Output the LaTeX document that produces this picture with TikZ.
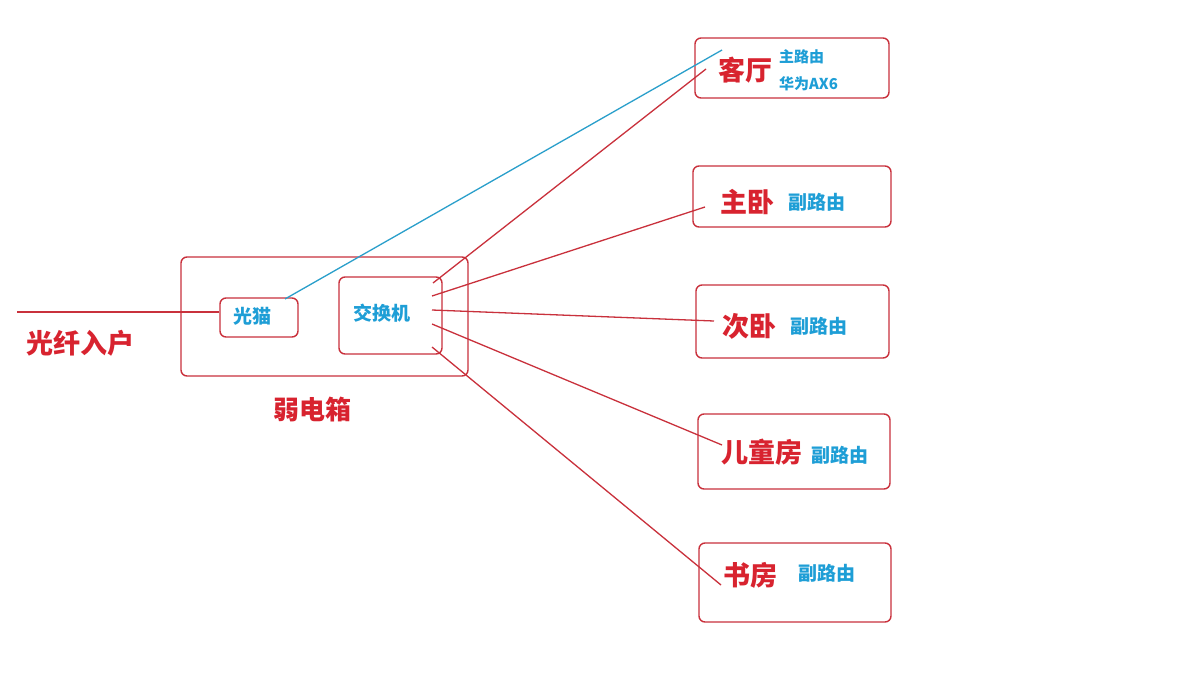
\documentclass[tikz,border=0pt]{standalone}
\usepackage{fontspec}
\setmainfont{Noto Sans CJK SC}
\definecolor{tred}{HTML}{D8232F}
\definecolor{bred}{HTML}{C9313C}
\definecolor{tblue}{HTML}{1E9ED6}
\definecolor{lblue}{HTML}{2A9FCB}
\begin{document}
\begin{tikzpicture}[x=1pt,y=-1pt,
  box/.style={draw=bred,line width=1.4pt,rounded corners=6pt,inner sep=0pt},
  redtxt/.style={text=tred,font=\bfseries\fontsize{27}{30}\selectfont,inner sep=0pt},
  bluetxt/.style={text=tblue,font=\bfseries\fontsize{19}{22}\selectfont,inner sep=0pt},
  smalltxt/.style={text=tblue,font=\bfseries\fontsize{15}{18}\selectfont,inner sep=0pt},
  wire/.style={draw=bred,line width=1.3pt},
  bwire/.style={draw=lblue,line width=1.3pt}]
\useasboundingbox[fill=white] (0,0) rectangle (1200,675);
% cabinet
\node[box,minimum width=287pt,minimum height=119pt] (cab) at (324.5,316.5) {};
\node[box,minimum width=78pt,minimum height=39pt] (modem) at (259,317.5) {};
\node[box,minimum width=103pt,minimum height=77pt] (sw) at (390.5,315.5) {};
\node[bluetxt] (modemt) at (252,316) {光猫};
\node[bluetxt] (swt) at (382,313) {交换机};
\node[redtxt] (fiber) at (81,343) {光纤入户};
\node[redtxt,font=\bfseries\fontsize{26}{29}\selectfont] (cabt) at (312,410) {弱电箱};
% rooms
\node[box,minimum width=194pt,minimum height=60pt] (r1) at (792,68) {};
\node[box,minimum width=198pt,minimum height=61pt] (r2) at (792,196.5) {};
\node[box,minimum width=193pt,minimum height=73pt] (r3) at (792.5,321.5) {};
\node[box,minimum width=192pt,minimum height=75pt] (r4) at (794,451.5) {};
\node[box,minimum width=192pt,minimum height=79pt] (r5) at (795,582.5) {};
\node[redtxt] (r1t) at (745,70) {客厅};
\node[smalltxt,anchor=west] (r1a) at (779,57) {主路由};
\node[smalltxt,anchor=west] (r1b) at (779,84) {华为AX6};
\node[redtxt] (r2t) at (747,202) {主卧};
\node[bluetxt] (r2s) at (817,202) {副路由};
\node[redtxt] (r3t) at (749,326) {次卧};
\node[bluetxt] (r3s) at (819,326) {副路由};
\node[redtxt] (r4t) at (762,452) {儿童房};
\node[bluetxt] (r4s) at (840,455) {副路由};
\node[redtxt] (r5t) at (750,575) {书房};
\node[bluetxt] (r5s) at (827,573) {副路由};
% wire ends
\coordinate (fin) at (17,312);
\coordinate (mo) at (285,299);
\coordinate (s1) at (433,283);
\coordinate (s2) at (432,296);
\coordinate (s3) at (432,310);
\coordinate (s4) at (432,324);
\coordinate (s5) at (432,347);
\coordinate (e0) at (722,50);
\coordinate (e1) at (706,69);
\coordinate (e2) at (705,207);
\coordinate (e3) at (714,321);
\coordinate (e4) at (722,445);
\coordinate (e5) at (721,585);
\draw[wire] (fin) -- (fin -| modem.west);
\draw[bwire] (mo) -- (e0);
\draw[wire] (s1) -- (e1);
\draw[wire] (s2) -- (e2);
\draw[wire] (s3) -- (e3);
\draw[wire] (s4) -- (e4);
\draw[wire] (s5) -- (e5);
\end{tikzpicture}
\end{document}
